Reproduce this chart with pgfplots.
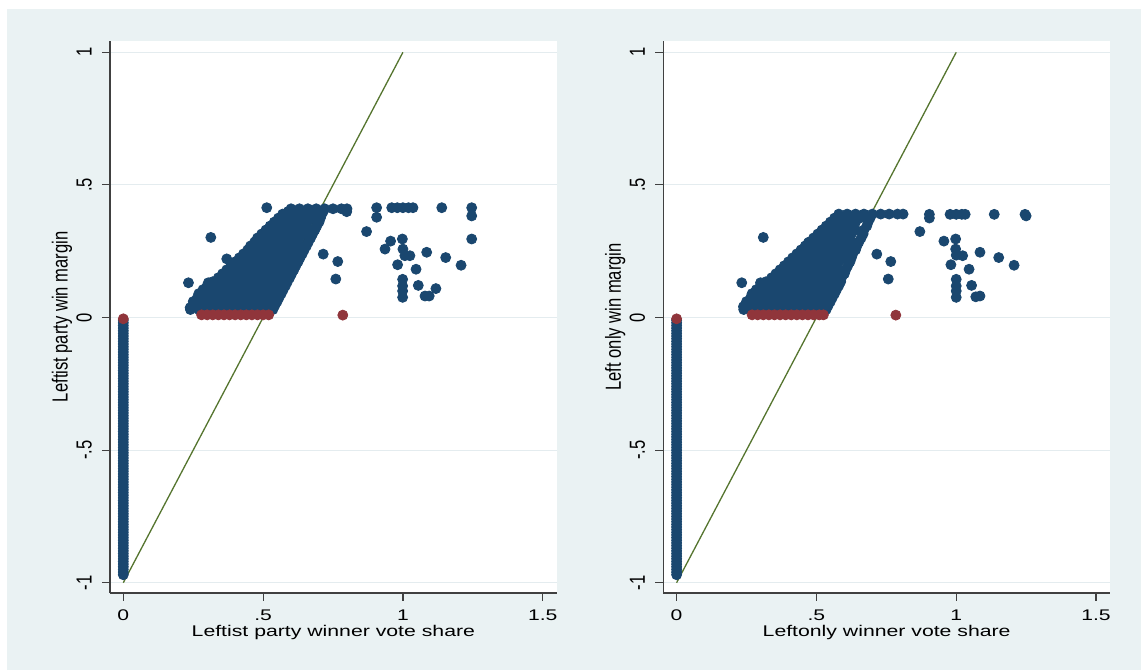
\documentclass[border=0pt]{standalone}
\usepackage{pgfplots}
\pgfplotsset{compat=1.18}
\usepackage{fontspec}
\setmainfont{Liberation Sans}
\newfontfamily\hfont[FakeStretch=1.37]{Liberation Sans}
\newfontfamily\vfont[FakeStretch=0.76]{Liberation Sans}
\definecolor{bgc}{HTML}{EAF2F3}
\definecolor{navy}{HTML}{1A476F}
\definecolor{maroon}{HTML}{90353B}
\definecolor{fgreen}{HTML}{55752F}
\definecolor{gridc}{HTML}{E4ECEF}

\pgfplotstableread{
x y
0 -0.97
0 -0.96
0 -0.95
0 -0.94
0 -0.93
0 -0.92
0 -0.91
0 -0.90
0 -0.89
0 -0.88
0 -0.87
0 -0.86
0 -0.85
0 -0.84
0 -0.83
0 -0.82
0 -0.81
0 -0.80
0 -0.79
0 -0.78
0 -0.77
0 -0.76
0 -0.75
0 -0.74
0 -0.73
0 -0.72
0 -0.71
0 -0.70
0 -0.69
0 -0.68
0 -0.67
0 -0.66
0 -0.65
0 -0.64
0 -0.63
0 -0.62
0 -0.61
0 -0.60
0 -0.59
0 -0.58
0 -0.57
0 -0.56
0 -0.55
0 -0.54
0 -0.53
0 -0.52
0 -0.51
0 -0.50
0 -0.49
0 -0.48
0 -0.47
0 -0.46
0 -0.45
0 -0.44
0 -0.43
0 -0.42
0 -0.41
0 -0.40
0 -0.39
0 -0.38
0 -0.37
0 -0.36
0 -0.35
0 -0.34
0 -0.33
0 -0.32
0 -0.31
0 -0.30
0 -0.29
0 -0.28
0 -0.27
0 -0.26
0 -0.25
0 -0.24
0 -0.23
0 -0.22
0 -0.21
0 -0.20
0 -0.19
0 -0.18
0 -0.17
0 -0.16
0 -0.15
0 -0.14
0 -0.13
0 -0.12
0 -0.11
0 -0.10
0 -0.09
0 -0.08
0 -0.07
0 -0.06
0 -0.05
0 -0.04
0 -0.03
0 -0.02
0 -0.01
}\zerocol

\pgfplotsset{stata/.style={
  scale only axis, width=223.35pt, height=275.85pt,
  anchor=south west,
  xmin=-0.0476, xmax=1.55, ymin=-1.0377, ymax=1.0426,
  axis x line*=bottom, axis y line*=left,
  axis line style={-, black!75, line width=0.8pt},
  axis background/.style={fill=white},
  xtick={0,0.5,1,1.5}, xticklabels={0,.5,1,1.5},
  ytick={-1,-0.5,0,0.5,1}, yticklabels={-1,-.5,0,.5,1},
  tick align=outside, major tick length=4pt,
  tick style={black!75, line width=0.6pt},
  ymajorgrids, major grid style={gridc, line width=0.6pt},
  xticklabel style={font=\hfont\fontsize{7.7}{9}\selectfont, anchor=base, yshift=-9.8pt},
  yticklabel style={font=\vfont\fontsize{10.9}{12}\selectfont, xshift=-5.2pt, rotate=90, anchor=base},
  every axis x label/.style={at={(axis description cs:0.5,0)}, anchor=base, yshift=-21.65pt, font=\hfont\fontsize{7.75}{9}\selectfont},
  every axis y label/.style={at={(axis description cs:0,0.5)}, xshift=-24pt, rotate=90, anchor=center, font=\vfont\fontsize{10.9}{12}\selectfont},
  clip=false,
  every mark/.append style={xscale=1.2},
  dots/.style={only marks, mark=*, mark size=2.5pt},
}}

\begin{document}
\begin{tikzpicture}
\fill[white] (0pt,0pt) rectangle (570.5pt,335pt);
\fill[bgc] (3.5pt,0pt) rectangle (570.5pt,330.5pt);

% ---------------- Left panel ----------------
\begin{axis}[stata, at={(55pt,38.65pt)},
  xlabel={Leftist party winner vote share},
  ylabel={Leftist party win margin}]
\addplot[dots, color=navy] table {\zerocol};
\addplot[dots, color=navy] table {
x y
0.24 0.03
0.27 0.03
0.30 0.03
0.33 0.03
0.36 0.03
0.39 0.03
0.42 0.03
0.45 0.03
0.48 0.03
0.51 0.03
0.535 0.03
0.255 0.045
0.285 0.045
0.315 0.045
0.345 0.045
0.375 0.045
0.405 0.045
0.435 0.045
0.465 0.045
0.495 0.045
0.525 0.045
0.542 0.045
0.25 0.06
0.28 0.06
0.31 0.06
0.34 0.06
0.37 0.06
0.40 0.06
0.43 0.06
0.46 0.06
0.49 0.06
0.52 0.06
0.55 0.06
0.265 0.075
0.295 0.075
0.325 0.075
0.355 0.075
0.385 0.075
0.415 0.075
0.445 0.075
0.475 0.075
0.505 0.075
0.535 0.075
0.557 0.075
0.27 0.09
0.30 0.09
0.33 0.09
0.36 0.09
0.39 0.09
0.42 0.09
0.45 0.09
0.48 0.09
0.51 0.09
0.54 0.09
0.565 0.09
0.285 0.105
0.315 0.105
0.345 0.105
0.375 0.105
0.405 0.105
0.435 0.105
0.465 0.105
0.495 0.105
0.525 0.105
0.555 0.105
0.572 0.105
0.30 0.12
0.33 0.12
0.36 0.12
0.39 0.12
0.42 0.12
0.45 0.12
0.48 0.12
0.51 0.12
0.54 0.12
0.58 0.12
0.32 0.135
0.35 0.135
0.38 0.135
0.41 0.135
0.44 0.135
0.47 0.135
0.50 0.135
0.53 0.135
0.56 0.135
0.587 0.135
0.34 0.15
0.37 0.15
0.40 0.15
0.43 0.15
0.46 0.15
0.49 0.15
0.52 0.15
0.55 0.15
0.58 0.15
0.595 0.15
0.355 0.165
0.385 0.165
0.415 0.165
0.445 0.165
0.475 0.165
0.505 0.165
0.535 0.165
0.565 0.165
0.602 0.165
0.37 0.18
0.40 0.18
0.43 0.18
0.46 0.18
0.49 0.18
0.52 0.18
0.55 0.18
0.58 0.18
0.61 0.18
0.385 0.195
0.415 0.195
0.445 0.195
0.475 0.195
0.505 0.195
0.535 0.195
0.565 0.195
0.595 0.195
0.617 0.195
0.40 0.21
0.43 0.21
0.46 0.21
0.49 0.21
0.52 0.21
0.55 0.21
0.58 0.21
0.61 0.21
0.625 0.21
0.415 0.225
0.445 0.225
0.475 0.225
0.505 0.225
0.535 0.225
0.565 0.225
0.595 0.225
0.632 0.225
0.43 0.24
0.46 0.24
0.49 0.24
0.52 0.24
0.55 0.24
0.58 0.24
0.61 0.24
0.64 0.24
0.445 0.255
0.475 0.255
0.505 0.255
0.535 0.255
0.565 0.255
0.595 0.255
0.625 0.255
0.647 0.255
0.455 0.27
0.48 0.27
0.51 0.27
0.54 0.27
0.57 0.27
0.60 0.27
0.63 0.27
0.655 0.27
0.47 0.285
0.50 0.285
0.53 0.285
0.56 0.285
0.59 0.285
0.62 0.285
0.662 0.285
0.48 0.30
0.51 0.30
0.54 0.30
0.57 0.30
0.60 0.30
0.63 0.30
0.67 0.30
0.495 0.315
0.525 0.315
0.555 0.315
0.585 0.315
0.615 0.315
0.645 0.315
0.677 0.315
0.51 0.33
0.54 0.33
0.57 0.33
0.60 0.33
0.63 0.33
0.66 0.33
0.685 0.33
0.525 0.345
0.555 0.345
0.585 0.345
0.615 0.345
0.645 0.345
0.692 0.345
0.54 0.36
0.57 0.36
0.60 0.36
0.63 0.36
0.66 0.36
0.70 0.36
0.555 0.375
0.585 0.375
0.615 0.375
0.645 0.375
0.675 0.375
0.705 0.375
0.57 0.39
0.60 0.39
0.63 0.39
0.66 0.39
0.69 0.39
0.71 0.39
0.59 0.40
0.62 0.40
0.65 0.40
0.68 0.40
0.715 0.40
0.60 0.41
0.63 0.41
0.66 0.41
0.69 0.41
0.72 0.41
0.75 0.41
0.78 0.41
0.80 0.41
0.799 0.399
0.513 0.414
0.313 0.302
0.370 0.221
0.233 0.131
0.304 0.131
0.239 0.037
0.715 0.239
0.767 0.211
0.760 0.145
0.870 0.324
0.906 0.414
0.906 0.378
0.96 0.414
0.98 0.414
1.0 0.414
1.02 0.414
1.036 0.414
1.139 0.414
1.246 0.414
1.246 0.383
1.246 0.296
0.956 0.288
0.998 0.296
0.936 0.258
1.0 0.258
1.007 0.233
1.025 0.233
1.085 0.246
1.153 0.226
1.208 0.197
0.981 0.199
1.047 0.182
0.999 0.144
0.999 0.119
0.999 0.100
0.999 0.076
1.055 0.121
1.118 0.109
1.079 0.081
1.094 0.081
};
\addplot[dots, color=maroon] table {
x y
0 -0.005
0.28 0.01
0.30 0.01
0.32 0.01
0.34 0.01
0.36 0.01
0.38 0.01
0.40 0.01
0.42 0.01
0.44 0.01
0.46 0.01
0.48 0.01
0.50 0.01
0.52 0.01
0.785 0.009
};
\addplot[fgreen, line width=0.65pt] coordinates {(0,-1) (1,1)};
\end{axis}

% ---------------- Right panel ----------------
\begin{axis}[stata, at={(331.65pt,38.65pt)},
  xlabel={Leftonly winner vote share},
  ylabel={Left only win margin}]
\addplot[dots, color=navy] table {\zerocol};
\addplot[dots, color=navy] table {
x y
0.24 0.03
0.27 0.03
0.30 0.03
0.33 0.03
0.36 0.03
0.39 0.03
0.42 0.03
0.45 0.03
0.48 0.03
0.51 0.03
0.535 0.03
0.255 0.045
0.285 0.045
0.315 0.045
0.345 0.045
0.375 0.045
0.405 0.045
0.435 0.045
0.465 0.045
0.495 0.045
0.525 0.045
0.542 0.045
0.25 0.06
0.28 0.06
0.31 0.06
0.34 0.06
0.37 0.06
0.40 0.06
0.43 0.06
0.46 0.06
0.49 0.06
0.52 0.06
0.55 0.06
0.265 0.075
0.295 0.075
0.325 0.075
0.355 0.075
0.385 0.075
0.415 0.075
0.445 0.075
0.475 0.075
0.505 0.075
0.535 0.075
0.557 0.075
0.27 0.09
0.30 0.09
0.33 0.09
0.36 0.09
0.39 0.09
0.42 0.09
0.45 0.09
0.48 0.09
0.51 0.09
0.54 0.09
0.565 0.09
0.285 0.105
0.315 0.105
0.345 0.105
0.375 0.105
0.405 0.105
0.435 0.105
0.465 0.105
0.495 0.105
0.525 0.105
0.555 0.105
0.572 0.105
0.30 0.12
0.33 0.12
0.36 0.12
0.39 0.12
0.42 0.12
0.45 0.12
0.48 0.12
0.51 0.12
0.54 0.12
0.58 0.12
0.32 0.135
0.35 0.135
0.38 0.135
0.41 0.135
0.44 0.135
0.47 0.135
0.50 0.135
0.53 0.135
0.56 0.135
0.587 0.135
0.34 0.15
0.37 0.15
0.40 0.15
0.43 0.15
0.46 0.15
0.49 0.15
0.52 0.15
0.55 0.15
0.59 0.15
0.355 0.165
0.385 0.165
0.415 0.165
0.445 0.165
0.475 0.165
0.505 0.165
0.535 0.165
0.565 0.165
0.60 0.165
0.37 0.18
0.40 0.18
0.43 0.18
0.46 0.18
0.49 0.18
0.52 0.18
0.55 0.18
0.58 0.18
0.605 0.18
0.385 0.195
0.415 0.195
0.445 0.195
0.475 0.195
0.505 0.195
0.535 0.195
0.565 0.195
0.612 0.195
0.40 0.21
0.43 0.21
0.46 0.21
0.49 0.21
0.52 0.21
0.55 0.21
0.58 0.21
0.62 0.21
0.415 0.225
0.445 0.225
0.475 0.225
0.505 0.225
0.535 0.225
0.565 0.225
0.595 0.225
0.625 0.225
0.43 0.24
0.46 0.24
0.49 0.24
0.52 0.24
0.55 0.24
0.58 0.24
0.61 0.24
0.63 0.24
0.445 0.255
0.475 0.255
0.505 0.255
0.535 0.255
0.565 0.255
0.595 0.255
0.64 0.255
0.46 0.27
0.49 0.27
0.52 0.27
0.55 0.27
0.58 0.27
0.61 0.27
0.645 0.27
0.475 0.285
0.505 0.285
0.535 0.285
0.565 0.285
0.595 0.285
0.625 0.285
0.652 0.285
0.49 0.30
0.52 0.30
0.55 0.30
0.58 0.30
0.61 0.30
0.66 0.30
0.505 0.315
0.535 0.315
0.565 0.315
0.595 0.315
0.625 0.315
0.667 0.315
0.52 0.33
0.55 0.33
0.58 0.33
0.61 0.33
0.64 0.33
0.67 0.33
0.535 0.345
0.565 0.345
0.595 0.345
0.625 0.345
0.68 0.345
0.55 0.36
0.58 0.36
0.61 0.36
0.64 0.36
0.685 0.36
0.565 0.375
0.595 0.375
0.625 0.375
0.655 0.375
0.692 0.375
0.58 0.39
0.61 0.39
0.64 0.39
0.67 0.39
0.70 0.39
0.73 0.39
0.76 0.39
0.79 0.39
0.81 0.39
0.31 0.302
0.471 0.282
0.537 0.324
0.578 0.368
0.233 0.131
0.30 0.131
0.239 0.041
0.716 0.239
0.766 0.211
0.757 0.145
0.870 0.324
0.904 0.389
0.904 0.375
0.978 0.389
1.0 0.389
1.02 0.389
1.032 0.389
1.136 0.389
1.246 0.389
1.25 0.383
0.956 0.288
0.998 0.296
0.998 0.258
1.0 0.235
1.023 0.233
1.085 0.246
1.152 0.226
1.207 0.197
0.981 0.199
1.046 0.182
1.0 0.144
1.0 0.119
1.0 0.100
1.0 0.076
1.055 0.121
1.085 0.081
1.07 0.078
};
\addplot[dots, color=maroon] table {
x y
0 -0.005
0.27 0.01
0.29 0.01
0.31 0.01
0.33 0.01
0.35 0.01
0.37 0.01
0.39 0.01
0.41 0.01
0.43 0.01
0.45 0.01
0.47 0.01
0.49 0.01
0.51 0.01
0.525 0.01
0.784 0.009
};
\addplot[fgreen, line width=0.65pt] coordinates {(0,-1) (1,1)};
\end{axis}
\end{tikzpicture}
\end{document}
